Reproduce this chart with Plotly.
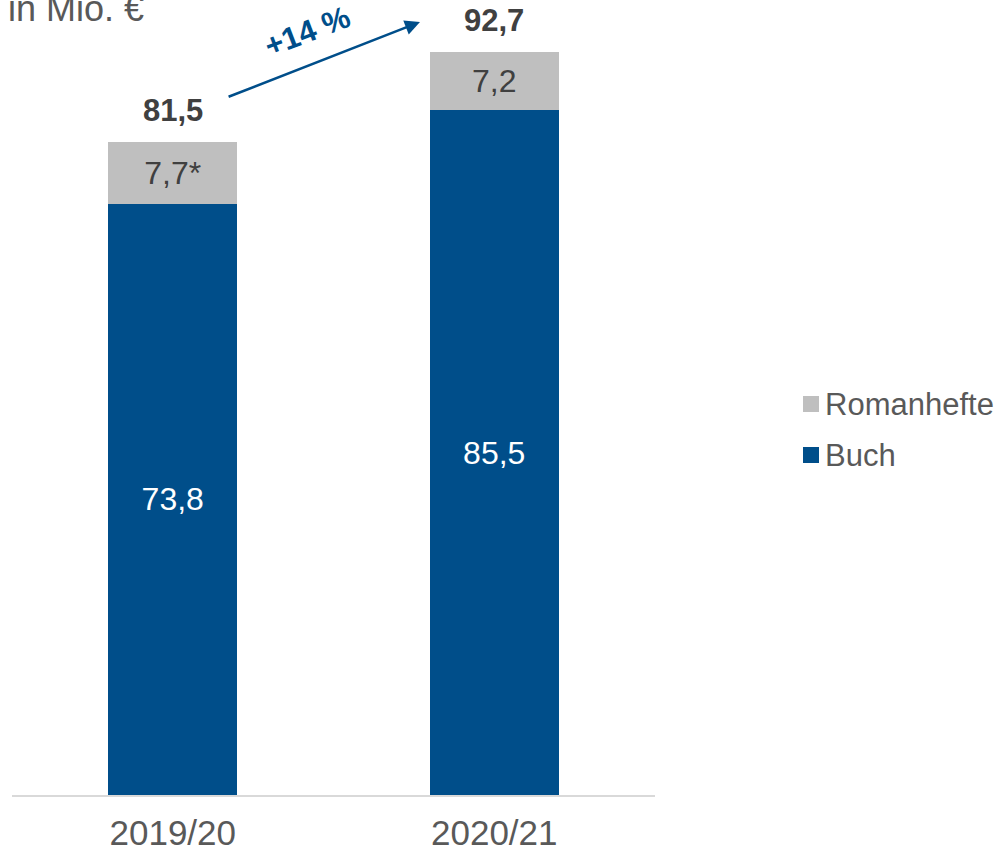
import plotly.graph_objects as go

# Sales in million euros per fiscal year
years = ["2019/20", "2020/21"]
buch = [73.8, 85.5]
romanhefte = [7.7, 7.2]
romanhefte_notes = ["*", ""]
growth_label = "+14 %"
unit_label = "in Mio. €"

BLUE = "#004E8A"
GREY = "#BFBFBF"
TEXT = "#595959"
DARK = "#404040"
FONT = "Liberation Sans, Arial, sans-serif"

PLOT_L, PLOT_W, PLOT_H = 12, 643, 795


def de(v):
    return f"{v:.1f}".replace(".", ",")


def px(x):
    return (x - PLOT_L) / PLOT_W


def py(y):
    return (PLOT_H - y) / PLOT_H


totals = [b + r for b, r in zip(buch, romanhefte)]

fig = go.Figure()
fig.add_trace(go.Bar(
    x=years, y=buch, name="Buch", marker=dict(color=BLUE, line=dict(width=0)),
    text=[de(v) for v in buch], textposition="inside", insidetextanchor="middle",
    textangle=0, textfont=dict(size=32, color="white", family=FONT),
    width=0.4, showlegend=False,
))
fig.add_trace(go.Bar(
    x=years, y=romanhefte, name="Romanhefte", marker=dict(color=GREY, line=dict(width=0)),
    text=[de(v) + n for v, n in zip(romanhefte, romanhefte_notes)],
    textposition="inside", insidetextanchor="middle",
    textangle=0, textfont=dict(size=32, color=DARK, family=FONT),
    width=0.4, showlegend=False,
))

# totals above the stacks
for yr, t in zip(years, totals):
    fig.add_annotation(x=yr, y=t, text=f"<b>{de(t)}</b>", showarrow=False,
                       yanchor="bottom", yshift=12,
                       font=dict(size=31, color=DARK, family=FONT))

# growth arrow between the stacks
fig.add_annotation(x=0.769, y=96.5, ax=0.169, ay=87.1, xref="x", yref="y",
                   axref="x", ayref="y", text="", showarrow=True,
                   arrowhead=2, arrowsize=1.2, arrowwidth=2.5, arrowcolor=BLUE)
fig.add_annotation(x=0.418, y=95.3, xref="x", yref="y", text=f"<b>{growth_label}</b>",
                   showarrow=False, textangle=-21,
                   font=dict(size=31, color=BLUE, family=FONT))

# unit label
fig.add_annotation(x=px(6), y=py(31), xref="paper", yref="paper", xanchor="left",
                   yanchor="bottom", text=unit_label, showarrow=False,
                   font=dict(size=36, color=TEXT, family=FONT))

# legend
legend_items = [("Romanhefte", GREY, 404), ("Buch", BLUE, 455)]
for name, col, ly in legend_items:
    fig.add_shape(type="rect", xref="paper", yref="paper",
                  x0=px(803), x1=px(819), y0=py(ly + 8), y1=py(ly - 8),
                  fillcolor=col, line=dict(width=0))
    fig.add_annotation(x=px(823), y=py(ly), xref="paper", yref="paper",
                       xanchor="left", yanchor="middle", text=name, showarrow=False,
                       font=dict(size=31, color=TEXT, family=FONT))

fig.update_layout(
    barmode="stack",
    width=999, height=854,
    margin=dict(l=PLOT_L, r=999 - PLOT_L - PLOT_W, t=0, b=854 - PLOT_H),
    plot_bgcolor="white", paper_bgcolor="white",
    font=dict(family=FONT, color=TEXT),
    showlegend=False,
)
fig.update_xaxes(showline=True, linecolor="#D9D9D9", linewidth=2, ticks="",
                 tickfont=dict(size=35, color=TEXT, family=FONT), showgrid=False,
                 ticklabelstandoff=6, range=[-0.5, 1.5])
fig.update_yaxes(visible=False, range=[0, PLOT_H / 8.01], showgrid=False, zeroline=False)

fig.write_html("out.html")
